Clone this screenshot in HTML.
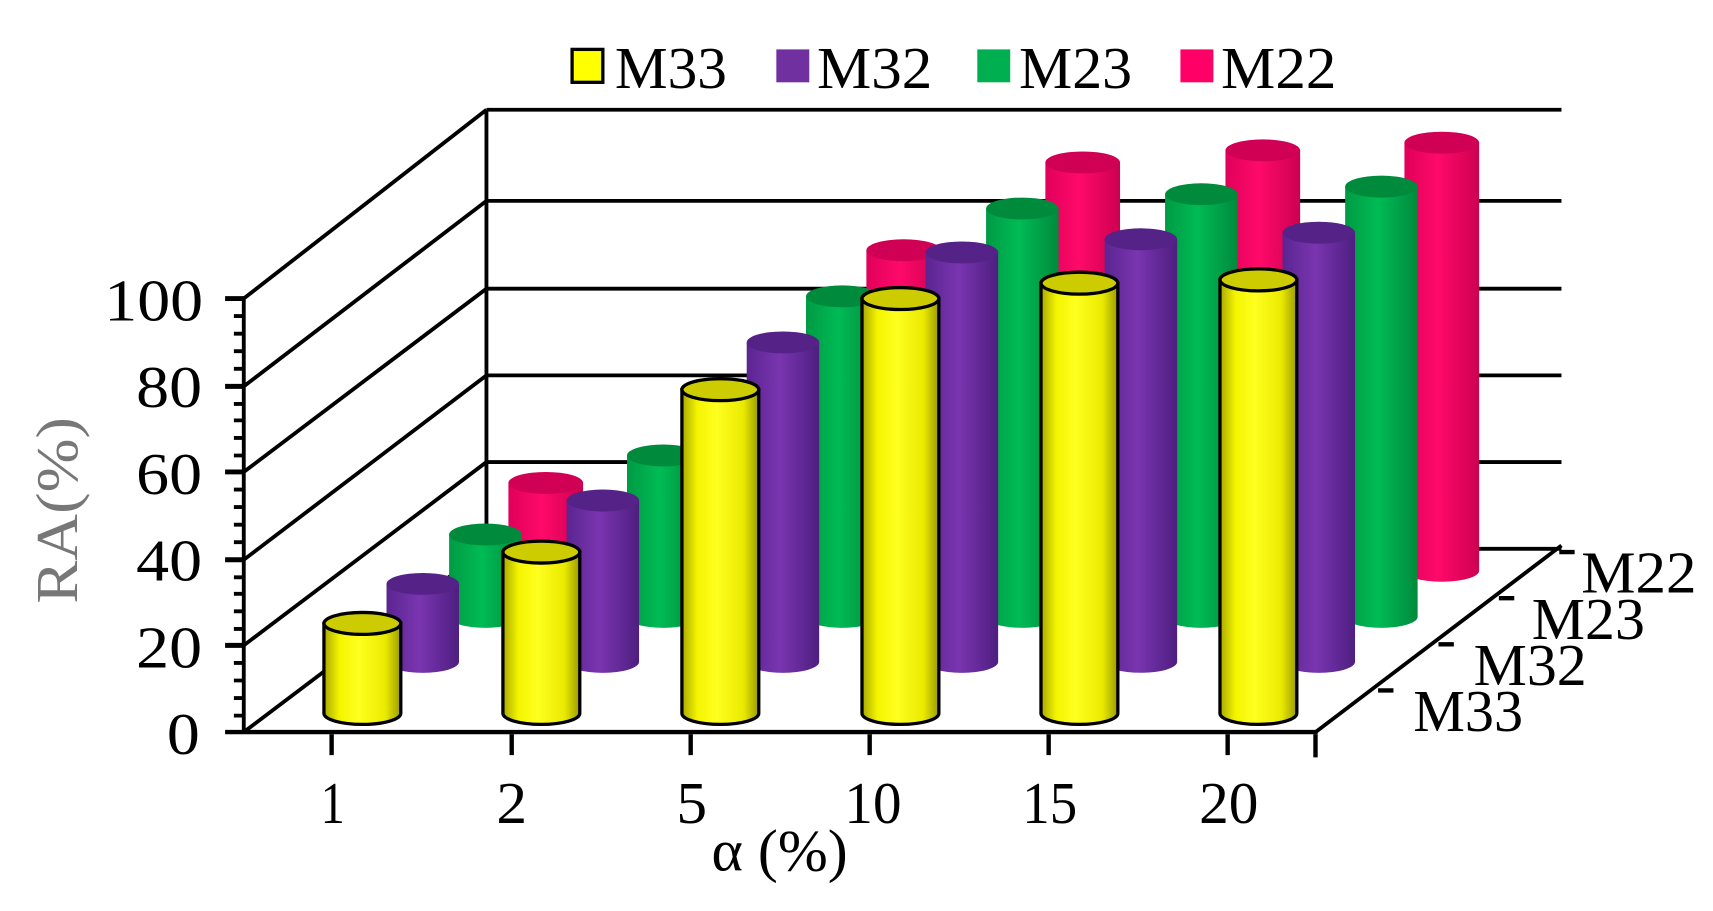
<!DOCTYPE html>
<html><head><meta charset="utf-8"><style>
html,body{margin:0;padding:0;background:#fff;}
svg{display:block;}
text{font-family:"Liberation Serif",serif;}
</style></head><body>
<svg width="1713" height="911" viewBox="0 0 1560 830" preserveAspectRatio="none" xmlns="http://www.w3.org/2000/svg">
<defs>
<linearGradient id="gy" x1="0" x2="1"><stop offset="0" stop-color="#a8a800"/><stop offset="0.2" stop-color="#f4f400"/><stop offset="0.45" stop-color="#ffff20"/><stop offset="0.8" stop-color="#eaea00"/><stop offset="1" stop-color="#9a9a00"/></linearGradient>
<linearGradient id="gp" x1="0" x2="1"><stop offset="0" stop-color="#5a2590"/><stop offset="0.45" stop-color="#7a35b0"/><stop offset="1" stop-color="#4e1e80"/></linearGradient>
<linearGradient id="gg" x1="0" x2="1"><stop offset="0" stop-color="#009a44"/><stop offset="0.45" stop-color="#00bb55"/><stop offset="1" stop-color="#008a3c"/></linearGradient>
<linearGradient id="gk" x1="0" x2="1"><stop offset="0" stop-color="#e0005a"/><stop offset="0.45" stop-color="#ff0a6a"/><stop offset="1" stop-color="#cc0050"/></linearGradient>
</defs>
<g stroke="#000" stroke-width="3.5" fill="none">
<line x1="443" y1="100" x2="1422" y2="100"/>
<line x1="443" y1="183" x2="1422" y2="183"/>
<line x1="443" y1="263" x2="1422" y2="263"/>
<line x1="443" y1="342" x2="1422" y2="342"/>
<line x1="443" y1="421" x2="1422" y2="421"/>
<line x1="443" y1="500" x2="1422" y2="500"/>
<line x1="443" y1="100" x2="443" y2="500"/>
<line x1="222" y1="272" x2="443" y2="100"/>
<line x1="222" y1="352" x2="443" y2="183"/>
<line x1="222" y1="430" x2="443" y2="263"/>
<line x1="222" y1="510" x2="443" y2="342"/>
<line x1="222" y1="588" x2="443" y2="421"/>
<line x1="222" y1="667" x2="443" y2="500"/>
<line x1="1198" y1="667" x2="1422" y2="497"/>
</g>
<g fill="url(#gk)">
<path d="M463,440 L463,520 A34,10 0 0 0 531,520 L531,440 Z"/><ellipse cx="497" cy="440" rx="34" ry="10" fill="#d00055"/>
<path d="M626,380 L626,520 A34,10 0 0 0 694,520 L694,380 Z"/><ellipse cx="660" cy="380" rx="34" ry="10" fill="#d00055"/>
<path d="M789,228 L789,520 A34,10 0 0 0 857,520 L857,228 Z"/><ellipse cx="823" cy="228" rx="34" ry="10" fill="#d00055"/>
<path d="M952,148 L952,520 A34,10 0 0 0 1020,520 L1020,148 Z"/><ellipse cx="986" cy="148" rx="34" ry="10" fill="#d00055"/>
<path d="M1116,137 L1116,520 A34,10 0 0 0 1184,520 L1184,137 Z"/><ellipse cx="1150" cy="137" rx="34" ry="10" fill="#d00055"/>
<path d="M1279,130 L1279,520 A34,10 0 0 0 1347,520 L1347,130 Z"/><ellipse cx="1313" cy="130" rx="34" ry="10" fill="#d00055"/>
</g>
<g fill="url(#gg)">
<path d="M409,487 L409,562 A33,10 0 0 0 475,562 L475,487 Z"/><ellipse cx="442" cy="487" rx="33" ry="10" fill="#008a3c"/>
<path d="M571,415 L571,562 A33,10 0 0 0 637,562 L637,415 Z"/><ellipse cx="604" cy="415" rx="33" ry="10" fill="#008a3c"/>
<path d="M734,270 L734,562 A33,10 0 0 0 800,562 L800,270 Z"/><ellipse cx="767" cy="270" rx="33" ry="10" fill="#008a3c"/>
<path d="M898,190 L898,562 A33,10 0 0 0 964,562 L964,190 Z"/><ellipse cx="931" cy="190" rx="33" ry="10" fill="#008a3c"/>
<path d="M1061,177 L1061,562 A33,10 0 0 0 1127,562 L1127,177 Z"/><ellipse cx="1094" cy="177" rx="33" ry="10" fill="#008a3c"/>
<path d="M1225,170 L1225,562 A33,10 0 0 0 1291,562 L1291,170 Z"/><ellipse cx="1258" cy="170" rx="33" ry="10" fill="#008a3c"/>
</g>
<g fill="url(#gp)">
<path d="M352,532 L352,603 A33,10 0 0 0 418,603 L418,532 Z"/><ellipse cx="385" cy="532" rx="33" ry="10" fill="#552288"/>
<path d="M516,456 L516,603 A33,10 0 0 0 582,603 L582,456 Z"/><ellipse cx="549" cy="456" rx="33" ry="10" fill="#552288"/>
<path d="M680,312 L680,603 A33,10 0 0 0 746,603 L746,312 Z"/><ellipse cx="713" cy="312" rx="33" ry="10" fill="#552288"/>
<path d="M843,230 L843,603 A33,10 0 0 0 909,603 L909,230 Z"/><ellipse cx="876" cy="230" rx="33" ry="10" fill="#552288"/>
<path d="M1006,218 L1006,603 A33,10 0 0 0 1072,603 L1072,218 Z"/><ellipse cx="1039" cy="218" rx="33" ry="10" fill="#552288"/>
<path d="M1168,212 L1168,603 A33,10 0 0 0 1234,603 L1234,212 Z"/><ellipse cx="1201" cy="212" rx="33" ry="10" fill="#552288"/>
</g>
<g fill="url(#gy)" stroke="#000" stroke-width="3">
<path d="M295,568 L295,650 A35,10 0 0 0 365,650 L365,568 Z"/><ellipse cx="330" cy="568" rx="35" ry="10" fill="#cccc00"/>
<path d="M458,503 L458,650 A35,10 0 0 0 528,650 L528,503 Z"/><ellipse cx="493" cy="503" rx="35" ry="10" fill="#cccc00"/>
<path d="M621,355 L621,650 A35,10 0 0 0 691,650 L691,355 Z"/><ellipse cx="656" cy="355" rx="35" ry="10" fill="#cccc00"/>
<path d="M785,272 L785,650 A35,10 0 0 0 855,650 L855,272 Z"/><ellipse cx="820" cy="272" rx="35" ry="10" fill="#cccc00"/>
<path d="M948,258 L948,650 A35,10 0 0 0 1018,650 L1018,258 Z"/><ellipse cx="983" cy="258" rx="35" ry="10" fill="#cccc00"/>
<path d="M1111,255 L1111,650 A35,10 0 0 0 1181,650 L1181,255 Z"/><ellipse cx="1146" cy="255" rx="35" ry="10" fill="#cccc00"/>
</g>
<g stroke="#000" fill="none">
<line x1="222" y1="270" x2="222" y2="668" stroke-width="3.5"/>
<line x1="205" y1="667" x2="1200" y2="667" stroke-width="4"/>
<g stroke-width="4.5">
<line x1="205" y1="272" x2="222" y2="272"/><line x1="205" y1="352" x2="222" y2="352"/><line x1="205" y1="430" x2="222" y2="430"/><line x1="205" y1="510" x2="222" y2="510"/><line x1="205" y1="588" x2="222" y2="588"/>
</g>
<g stroke-width="3.5">
<path d="M213,288H222M213,304H222M213,320H222M213,336H222M213,368H222M213,383H222M213,399H222M213,415H222M213,446H222M213,462H222M213,478H222M213,494H222M213,526H222M213,541H222M213,557H222M213,573H222M213,604H222M213,620H222M213,636H222M213,652H222"/>
</g>
<g stroke-width="4">
<path d="M302,669V688M466,669V688M629,669V688M792,669V688M955,669V688M1118,669V688M1198,669V690"/>
<path d="M1420,503H1434M1365,545H1379M1310,587H1324M1255,629H1269"/>
</g>
</g>
<g font-size="54" fill="#000" lengthAdjust="spacingAndGlyphs">
<text x="95" y="292" textLength="90" lengthAdjust="spacingAndGlyphs">100</text>
<text x="124" y="371" textLength="60" lengthAdjust="spacingAndGlyphs">80</text>
<text x="124" y="450" textLength="60" lengthAdjust="spacingAndGlyphs">60</text>
<text x="124" y="529" textLength="60" lengthAdjust="spacingAndGlyphs">40</text>
<text x="124" y="608" textLength="60" lengthAdjust="spacingAndGlyphs">20</text>
<text x="152" y="687" textLength="30" lengthAdjust="spacingAndGlyphs">0</text>
<text x="292" y="750" textLength="22" lengthAdjust="spacingAndGlyphs">1</text>
<text x="452" y="750" textLength="28" lengthAdjust="spacingAndGlyphs">2</text>
<text x="616" y="750" textLength="28" lengthAdjust="spacingAndGlyphs">5</text>
<text x="769" y="750" textLength="52" lengthAdjust="spacingAndGlyphs">10</text>
<text x="931" y="750" textLength="50" lengthAdjust="spacingAndGlyphs">15</text>
<text x="1092" y="750" textLength="54" lengthAdjust="spacingAndGlyphs">20</text>
<text x="648" y="793" textLength="124" lengthAdjust="spacingAndGlyphs">α (%)</text>
<text x="1440" y="540" textLength="105" lengthAdjust="spacingAndGlyphs">M22</text>
<text x="1395" y="582" textLength="103" lengthAdjust="spacingAndGlyphs">M23</text>
<text x="1342" y="624" textLength="103" lengthAdjust="spacingAndGlyphs">M32</text>
<text x="1287" y="666" textLength="100" lengthAdjust="spacingAndGlyphs">M33</text>
<text transform="translate(70,550) rotate(-90)" fill="#777" textLength="170" lengthAdjust="spacingAndGlyphs">RA(%)</text>
<rect x="521" y="45" width="28" height="30" fill="#ffff00" stroke="#000" stroke-width="3"/><text x="560" y="80" textLength="102" lengthAdjust="spacingAndGlyphs">M33</text>
<rect x="707" y="45" width="30" height="30" fill="#7030a0"/><text x="744" y="80" textLength="105" lengthAdjust="spacingAndGlyphs">M32</text>
<rect x="890" y="45" width="30" height="30" fill="#00b050"/><text x="928" y="80" textLength="103" lengthAdjust="spacingAndGlyphs">M23</text>
<rect x="1075" y="45" width="30" height="30" fill="#ff0066"/><text x="1112" y="80" textLength="105" lengthAdjust="spacingAndGlyphs">M22</text>
</g>
</svg>
</body></html>
